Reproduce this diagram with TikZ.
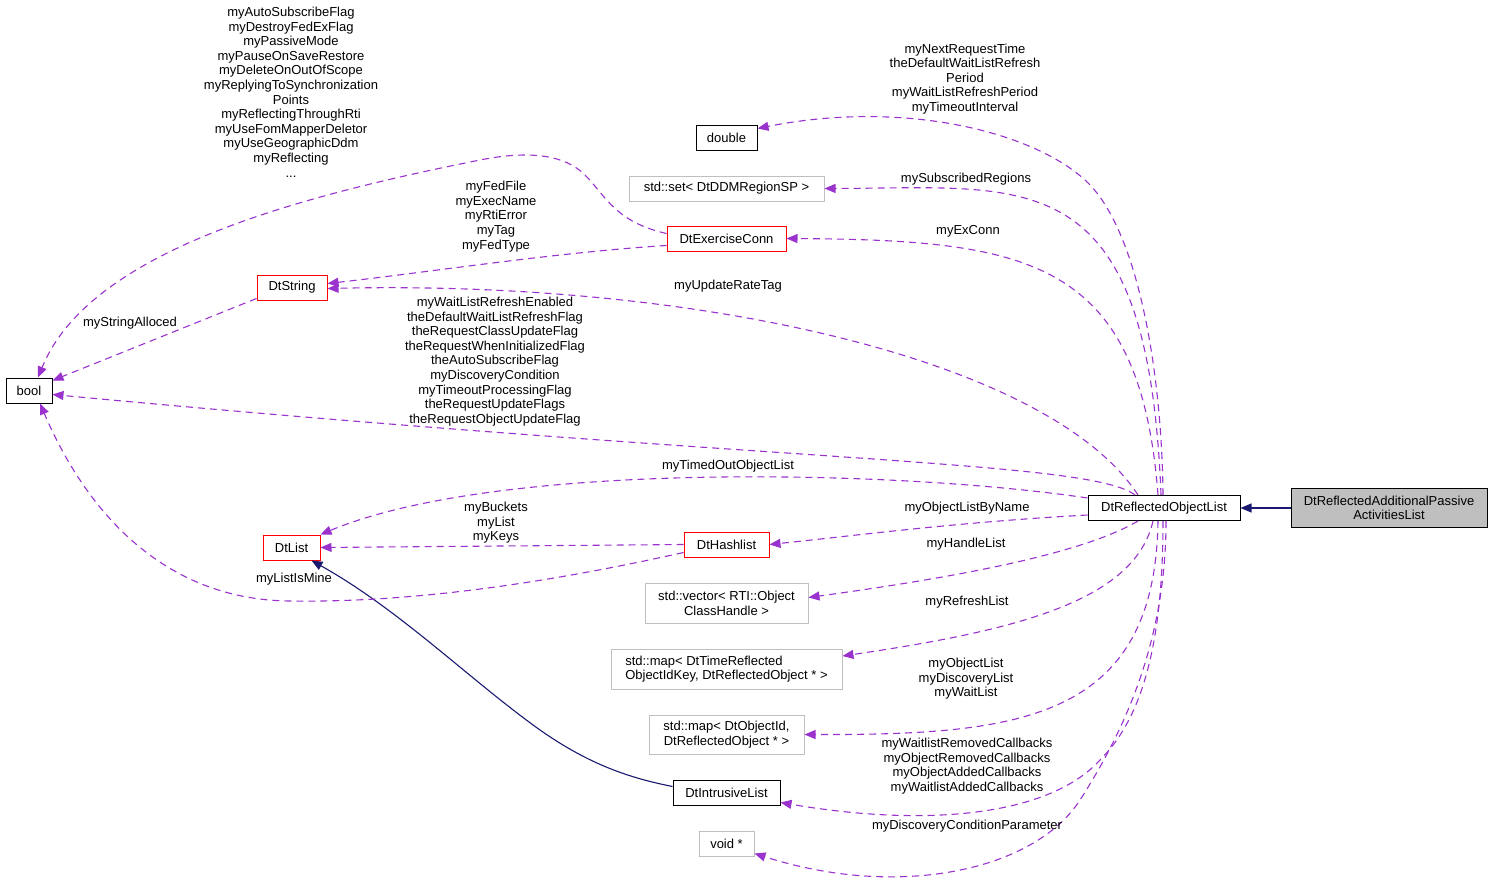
\documentclass[tikz,border=0pt]{standalone}
\usepackage{fontspec}
\setmainfont{Liberation Sans}
\usetikzlibrary{arrows.meta}
\definecolor{edgepurple}{HTML}{9A32CD}
\definecolor{inhblue}{HTML}{191970}
\definecolor{boxgray}{HTML}{BFBFBF}
\tikzset{
	cls/.style={draw=black, line width=1pt, minimum height=25pt, inner sep=0pt, align=center},
	redcls/.style={cls, draw=red},
	graycls/.style={cls, draw=boxgray},
	dep/.style={draw=edgepurple, line width=1.1pt, dash pattern=on 7pt off 5pt, -{Triangle[length=11pt,width=9pt]}},
	inh/.style={draw=inhblue, line width=1.1pt, -{Triangle[length=11pt,width=9pt]}},
	lbl/.style={align=center, inner sep=0pt}
}

\begin{document}
\begin{tikzpicture}[x=1pt, y=-1pt, font=\fontsize{13}{14.6}\selectfont]
			%%%%% START %%%%%
			\useasboundingbox (0,0) rectangle (1493,883);
			
			\node[cls, minimum width=196pt, minimum height=39pt, fill=boxgray] (pas) at (1389,508) {DtReflectedAdditionalPassive\\ActivitiesList};
			\node[cls, minimum width=152pt] (rol) at (1164,508) {DtReflectedObjectList};
			
			\node[cls, minimum width=46pt] (bool) at (29,390.5) {bool};
			\node[redcls, minimum width=70pt] (dstr) at (292,287.5) {DtString};
			\node[redcls, minimum width=57pt] (dlist) at (291.5,547.5) {DtList};
			
			\node[cls, minimum width=61pt] (dbl) at (726.5,137.5) {double};
			\node[graycls, minimum width=195pt] (dset) at (726.5,188.5) {std::set\textless{} DtDDMRegionSP \textgreater};
			\node[redcls, minimum width=119pt] (exc) at (726.5,238.5) {DtExerciseConn};
			\node[redcls, minimum width=85pt] (hash) at (726.5,544.5) {DtHashlist};
			\node[graycls, minimum width=163pt, minimum height=40pt] (vec) at (726.5,603.5) {std::vector\textless{} RTI::Object\\ClassHandle \textgreater};
			\node[graycls, minimum width=231pt, minimum height=40pt, align=left] (mapa) at (726.5,669) {std::map\textless{} DtTimeReflected\\ObjectIdKey, DtReflectedObject * \textgreater};
			\node[graycls, minimum width=155pt, minimum height=39pt] (mapb) at (726.5,734.5) {std::map\textless{} DtObjectId,\\DtReflectedObject * \textgreater};
			\node[cls, minimum width=107pt] (intr) at (726.5,792.5) {DtIntrusiveList};
			\node[graycls, minimum width=55pt] (vptr) at (726.5,843.5) {void *};
			
			% inheritance
			\draw[inh] (pas.west) -- (rol.east);
			\draw[inh] ([yshift=6]intr.west) .. controls (630,778) and (590,765) .. (540,730) .. controls (470,680) and (400,610) .. ([xshift=20]dlist.south);
			
			% members of DtReflectedObjectList
			\draw[dep] ([xshift=-1]rol.north) .. controls (1162,380) and (1140,230) .. (1085,180) .. controls (1030,130) and (900,100) .. ([yshift=9]dbl.east);
			\draw[dep] ([xshift=-3]rol.north) .. controls (1148,160) and (1030,188) .. (dset.east);
			\draw[dep] ([xshift=-6]rol.north) .. controls (1140,260) and (1030,240) .. (exc.east);
			\draw[dep] ([xshift=-26]rol.north) .. controls (1050,360) and (700,280) .. ([yshift=-1]dstr.east);
			\draw[dep] ([xshift=-29]rol.north) .. controls (1090,460) and (780,463) .. ([yshift=-4]bool.east);
			\draw[dep] ([yshift=10]rol.west) .. controls (900,470) and (500,460) .. (dlist.north east);
			\draw[dep] ([yshift=-7]rol.west) .. controls (960,522) and (860,535) .. (hash.east);
			\draw[dep] ([xshift=-26]rol.south) .. controls (1080,555) and (950,578) .. ([yshift=6]vec.east);
			\draw[dep] ([xshift=-11]rol.south) .. controls (1135,600) and (1020,630) .. ([yshift=13]mapa.east);
			\draw[dep] ([xshift=-6]rol.south) .. controls (1155,720) and (1020,735) .. (mapb.east);
			\draw[dep] ([xshift=-1]rol.south) .. controls (1163,650) and (1140,720) .. (1100,760) .. controls (1050,815) and (930,828) .. ([yshift=-10]intr.east);
			\draw[dep] ([xshift=2]rol.south) .. controls (1166,640) and (1125,730) .. (1080,800) .. controls (1035,870) and (900,900) .. ([yshift=-10]vptr.east);
			
			% members of the other classes
			\draw[dep] ([yshift=-7]exc.west) .. controls (560,252) and (430,272) .. ([yshift=4]dstr.east);
			\draw[dep] ([yshift=5]exc.west) .. controls (615,222) and (605,195) .. (585,175) .. controls (565,155) and (530,150) .. (480,160) .. controls (300,196) and (90,250) .. ([xshift=9]bool.north);
			\draw[dep] ([yshift=2]dstr.south west) -- ([yshift=10]bool.east);
			\draw[dep] (hash.west) -- (dlist.east);
			\draw[dep] ([yshift=-8]hash.west) .. controls (560,580) and (420,603) .. (290,601) .. controls (170,600) and (90,520) .. ([xshift=11]bool.south);
			
			% labels
			\node[lbl] (lbldbl) at (965,79) {myNextRequestTime\\theDefaultWaitListRefresh\\Period\\myWaitListRefreshPeriod\\myTimeoutInterval};
			\node[lbl] (lblset) at (966,179) {mySubscribedRegions};
			\node[lbl] (lblexc) at (968,231) {myExConn};
			\node[lbl] (lblfed) at (496,216.5) {myFedFile\\myExecName\\myRtiError\\myTag\\myFedType};
			\node[lbl] (lblflags) at (291,92) {myAutoSubscribeFlag\\myDestroyFedExFlag\\myPassiveMode\\myPauseOnSaveRestore\\myDeleteOnOutOfScope\\myReplyingToSynchronization\\Points\\myReflectingThroughRti\\myUseFomMapperDeletor\\myUseGeographicDdm\\myReflecting\\...};
			\node[lbl] (lblrate) at (728,286) {myUpdateRateTag};
			\node[lbl] (lblalloc) at (130,323) {myStringAlloced};
			\node[lbl] (lblbool) at (495,361.5) {myWaitListRefreshEnabled\\theDefaultWaitListRefreshFlag\\theRequestClassUpdateFlag\\theRequestWhenInitializedFlag\\theAutoSubscribeFlag\\myDiscoveryCondition\\myTimeoutProcessingFlag\\theRequestUpdateFlags\\theRequestObjectUpdateFlag};
			\node[lbl] (lbltimed) at (728,466) {myTimedOutObjectList};
			\node[lbl] (lblbyname) at (967,508) {myObjectListByName};
			\node[lbl] (lblbuckets) at (496,523) {myBuckets\\myList\\myKeys};
			\node[lbl] (lblhandle) at (966,544) {myHandleList};
			\node[lbl] (lblmine) at (294,579) {myListIsMine};
			\node[lbl] (lblrefresh) at (967,602) {myRefreshList};
			\node[lbl] (lblobjlist) at (966,679) {myObjectList\\myDiscoveryList\\myWaitList};
			\node[lbl] (lblcallbacks) at (967,766) {myWaitlistRemovedCallbacks\\myObjectRemovedCallbacks\\myObjectAddedCallbacks\\myWaitlistAddedCallbacks};
			\node[lbl] (lblparam) at (967,826) {myDiscoveryConditionParameter};
			
			%%%%% END %%%%%
\end{tikzpicture}
\end{document}
